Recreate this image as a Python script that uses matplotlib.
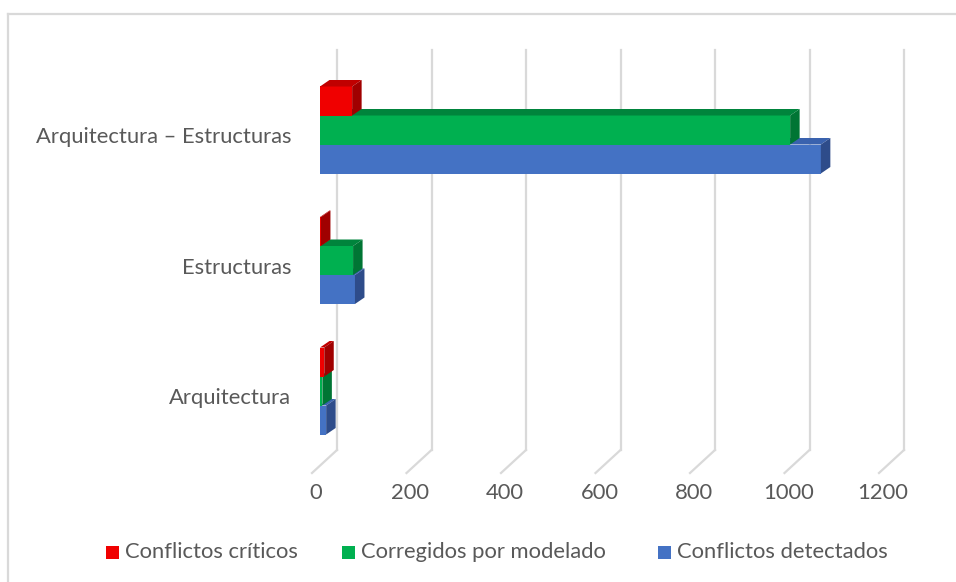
import matplotlib.pyplot as plt
from matplotlib.patches import Polygon, Rectangle
from matplotlib.lines import Line2D
from matplotlib import transforms

plt.rcParams['font.family'] = ['Lato', 'DejaVu Sans']

categories = ['Arquitectura', 'Estructuras', 'Arquitectura – Estructuras']
series_names = ['Conflictos críticos', 'Corregidos por modelado', 'Conflictos detectados']
criticos = [9, 2, 68]
corregidos = [5, 70, 995]
detectados = [13, 74, 1060]
ticks = [0, 200, 400, 600, 800, 1000, 1200]

front = ['#F00000', '#00B050', '#4472C4']
top_c = ['#C00000', '#00843C', '#3A62AE']
side_c = ['#A00000', '#007534', '#2E4C8A']
grid_c = '#D9D9D9'
text_c = '#595959'
fs = 15.8

W, H = 956, 582
fig = plt.figure(figsize=(W / 100, H / 100), dpi=100)

# axes in pixels: left 320, right 887, top 50, bottom 450
ax_l, ax_r, ax_t, ax_b = 320, 887, 50, 450
ax = fig.add_axes([ax_l / W, 1 - ax_b / H, (ax_r - ax_l) / W, (ax_b - ax_t) / H])
ax.set_xlim(0, 1200)
ylo, yhi = -(ax_b - 391) / 130.5, (391 - ax_t) / 130.5
ax.set_ylim(ylo, yhi)
ax.axis('off')

px_x = (ax_r - ax_l) / 1200.0
px_y = (ax_b - ax_t) / (yhi - ylo)


def off(dx, dy, base):
    return base + transforms.ScaledTranslation(dx / 100, dy / 100, fig.dpi_scale_trans)


blend = transforms.blended_transform_factory(ax.transData, ax.transAxes)

# wall gridlines and floor diagonals
for t in ticks:
    ax.add_line(Line2D([t, t], [0, 1], transform=off(17, 0, blend), color=grid_c, lw=1.6,
                       zorder=0, clip_on=False))
    x0 = ax.transData.transform((t, 0))[0]
    ax.add_line(Line2D([x0 + 17, x0 - 8], [fig.bbox.height - ax_b, fig.bbox.height - ax_b - 23],
                       transform=None, color=grid_c, lw=1.6, zorder=0, clip_on=False))
    ax.text(t, 0, str(t), transform=off(-4, -43, blend), ha='center', va='center',
            fontsize=fs, color=text_c)

# 3D-looking bars
dx = 9.5 / px_x
dy = 6.5 / px_y
bh = 29 / px_y
series = [criticos, corregidos, detectados]
order = [2, 1, 0]  # bottom bar first
for i, cat in enumerate(categories):
    for pos, s in enumerate(order):
        v = series[s][i]
        y0 = i - 1.5 * bh + pos * bh
        y1 = y0 + bh
        ax.add_patch(Rectangle((0, y0), v, bh, facecolor=front[s], edgecolor='none', zorder=3 + pos))
        ax.add_patch(Polygon([(0, y1), (dx, y1 + dy), (v + dx, y1 + dy), (v, y1)],
                             facecolor=top_c[s], edgecolor='none', zorder=3 + pos))
        ax.add_patch(Polygon([(v, y0), (v + dx, y0 + dy), (v + dx, y1 + dy), (v, y1)],
                             facecolor=side_c[s], edgecolor='none', zorder=3 + pos))
    ax.text(0, i, cat, transform=off(-29, -7, ax.transData), ha='right', va='center',
            fontsize=fs, color=text_c)

# legend
leg_y = 1 - 552 / H
leg_x = [106, 342, 658]
for s, name in enumerate(series_names):
    fig.patches.append(Rectangle((leg_x[s] / W, leg_y - 7 / H), 13 / W, 13 / H,
                                 transform=fig.transFigure, facecolor=front[s], edgecolor='none'))
    fig.text((leg_x[s] + 19) / W, leg_y, name, ha='left', va='center', fontsize=fs, color=text_c)

# chart frame (top and left edges visible)
fig.add_artist(Line2D([8 / W, 1], [1 - 14 / H, 1 - 14 / H], transform=fig.transFigure, color=grid_c, lw=1.6))
fig.add_artist(Line2D([8 / W, 8 / W], [0, 1 - 14 / H], transform=fig.transFigure, color=grid_c, lw=1.6))

fig.savefig('out.png', dpi=100)
